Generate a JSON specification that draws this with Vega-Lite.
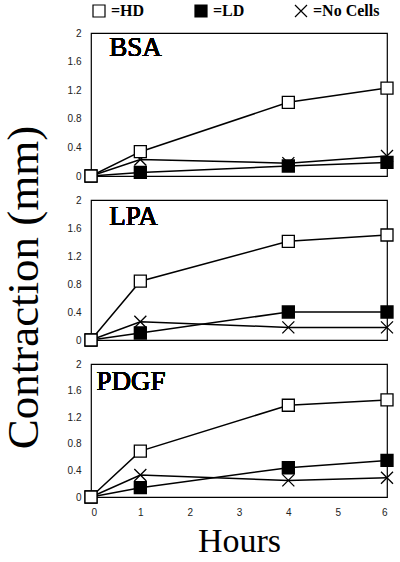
{
  "$schema": "https://vega.github.io/schema/vega-lite/v6.json",
  "padding": {"left": 0, "top": 3, "right": 5, "bottom": 0},
  "background": "white",
  "bounds": "flush",
  "spacing": 24,
  "config": {
    "view": {"stroke": "black", "strokeWidth": 1.2},
    "axis": {"labelFont": "Liberation Sans", "labelFontSize": 10, "labelColor": "#222", "labelOverlap": false, "ticks": false, "domain": false, "grid": false, "titleFont": "Liberation Serif", "titleFontWeight": "normal", "titleColor": "black"},
    "legend": {"labelFont": "Liberation Serif", "labelFontWeight": "bold", "labelFontSize": 16, "labelColor": "black"}
  },
  "datasets": {
    "pts": [
      {"panel": "BSA", "series": "LD", "hours": 0, "value": 0},
      {"panel": "BSA", "series": "LD", "hours": 1, "value": 0.05},
      {"panel": "BSA", "series": "LD", "hours": 4, "value": 0.14},
      {"panel": "BSA", "series": "LD", "hours": 6, "value": 0.19},
      {"panel": "BSA", "series": "No Cells", "hours": 0, "value": 0},
      {"panel": "BSA", "series": "No Cells", "hours": 1, "value": 0.23},
      {"panel": "BSA", "series": "No Cells", "hours": 4, "value": 0.18},
      {"panel": "BSA", "series": "No Cells", "hours": 6, "value": 0.28},
      {"panel": "BSA", "series": "HD", "hours": 0, "value": 0},
      {"panel": "BSA", "series": "HD", "hours": 1, "value": 0.34},
      {"panel": "BSA", "series": "HD", "hours": 4, "value": 1.03},
      {"panel": "BSA", "series": "HD", "hours": 6, "value": 1.23},
      {"panel": "LPA", "series": "LD", "hours": 0, "value": 0},
      {"panel": "LPA", "series": "LD", "hours": 1, "value": 0.10},
      {"panel": "LPA", "series": "LD", "hours": 4, "value": 0.40},
      {"panel": "LPA", "series": "LD", "hours": 6, "value": 0.40},
      {"panel": "LPA", "series": "No Cells", "hours": 0, "value": 0},
      {"panel": "LPA", "series": "No Cells", "hours": 1, "value": 0.26},
      {"panel": "LPA", "series": "No Cells", "hours": 4, "value": 0.18},
      {"panel": "LPA", "series": "No Cells", "hours": 6, "value": 0.18},
      {"panel": "LPA", "series": "HD", "hours": 0, "value": 0},
      {"panel": "LPA", "series": "HD", "hours": 1, "value": 0.84},
      {"panel": "LPA", "series": "HD", "hours": 4, "value": 1.41},
      {"panel": "LPA", "series": "HD", "hours": 6, "value": 1.50},
      {"panel": "PDGF", "series": "LD", "hours": 0, "value": 0},
      {"panel": "PDGF", "series": "LD", "hours": 1, "value": 0.14},
      {"panel": "PDGF", "series": "LD", "hours": 4, "value": 0.44},
      {"panel": "PDGF", "series": "LD", "hours": 6, "value": 0.55},
      {"panel": "PDGF", "series": "No Cells", "hours": 0, "value": 0},
      {"panel": "PDGF", "series": "No Cells", "hours": 1, "value": 0.33},
      {"panel": "PDGF", "series": "No Cells", "hours": 4, "value": 0.25},
      {"panel": "PDGF", "series": "No Cells", "hours": 6, "value": 0.29},
      {"panel": "PDGF", "series": "HD", "hours": 0, "value": 0},
      {"panel": "PDGF", "series": "HD", "hours": 1, "value": 0.69},
      {"panel": "PDGF", "series": "HD", "hours": 4, "value": 1.38},
      {"panel": "PDGF", "series": "HD", "hours": 6, "value": 1.46}
    ]
  },
  "vconcat": [
    {
      "width": 296, "height": 143,
      "data": {"name": "pts"},
      "transform": [{"filter": "datum.panel === 'BSA'"}],
      "encoding": {
        "x": {"field": "hours", "type": "quantitative", "scale": {"domain": [0, 6]}, "axis": null},
        "y": {"field": "value", "type": "quantitative", "scale": {"domain": [0, 2]}, "axis": {"values": [0, 0.4, 0.8, 1.2, 1.6, 2], "labelExpr": "format(datum.value, '~g')", "title": null, "labelPadding": 10, "labelOverlap": false}}
      },
      "layer": [
        {"mark": {"type": "line", "stroke": "black", "strokeWidth": 1.5},
         "encoding": {"detail": {"field": "series"}}},
        {"mark": {"type": "point", "filled": true, "stroke": "black", "strokeWidth": 1.3, "size": 144, "opacity": 1},
         "encoding": {
           "shape": {"field": "series", "type": "nominal", "scale": {"domain": ["HD", "LD", "No Cells"], "range": ["square", "square", "M-1,-1L1,1M-1,1L1,-1"]},
             "legend": {"title": null, "orient": "top", "direction": "horizontal", "columns": 3, "gridAlign": "none", "columnPadding": 47, "symbolSize": 144, "symbolStrokeWidth": 1.2, "labelExpr": "'=' + datum.label", "offset": 7, "labelOffset": 4}},
           "fill": {"field": "series", "type": "nominal", "scale": {"domain": ["HD", "LD", "No Cells"], "range": ["white", "black", "transparent"]}, "legend": {"title": null}}}},
        {"mark": {"type": "text", "font": "Liberation Serif", "fontWeight": "normal", "fontSize": 27, "align": "left", "baseline": "alphabetic"},
         "encoding": {"x": {"datum": 0.37}, "y": {"datum": 1.68}, "text": {"value": "BSA"}}}
      ]
    },
    {
      "width": 296, "height": 140,
      "data": {"name": "pts"},
      "transform": [{"filter": "datum.panel === 'LPA'"}],
      "encoding": {
        "x": {"field": "hours", "type": "quantitative", "scale": {"domain": [0, 6]}, "axis": null},
        "y": {"field": "value", "type": "quantitative", "scale": {"domain": [0, 2]}, "axis": {"values": [0, 0.4, 0.8, 1.2, 1.6, 2], "labelExpr": "format(datum.value, '~g')", "title": "Contraction (mm)", "titleFontSize": 45, "titlePadding": 21, "titleY": 87, "labelPadding": 10, "labelOverlap": false}}
      },
      "layer": [
        {"mark": {"type": "line", "stroke": "black", "strokeWidth": 1.5},
         "encoding": {"detail": {"field": "series"}}},
        {"mark": {"type": "point", "filled": true, "stroke": "black", "strokeWidth": 1.3, "size": 144, "opacity": 1},
         "encoding": {
           "shape": {"field": "series", "type": "nominal", "scale": {"domain": ["HD", "LD", "No Cells"], "range": ["square", "square", "M-1,-1L1,1M-1,1L1,-1"]}, "legend": null},
           "fill": {"field": "series", "type": "nominal", "scale": {"domain": ["HD", "LD", "No Cells"], "range": ["white", "black", "transparent"]}, "legend": null}}},
        {"mark": {"type": "text", "font": "Liberation Serif", "fontWeight": "normal", "fontSize": 27, "align": "left", "baseline": "alphabetic"},
         "encoding": {"x": {"datum": 0.37}, "y": {"datum": 1.64}, "text": {"value": "LPA"}}}
      ]
    },
    {
      "width": 296, "height": 133,
      "data": {"name": "pts"},
      "transform": [{"filter": "datum.panel === 'PDGF'"}],
      "encoding": {
        "x": {"field": "hours", "type": "quantitative", "scale": {"domain": [0, 6]}, "axis": {"values": [0, 1, 2, 3, 4, 5, 6], "title": "Hours", "titleFontSize": 34, "titlePadding": 7, "labelPadding": 10}},
        "y": {"field": "value", "type": "quantitative", "scale": {"domain": [0, 2]}, "axis": {"values": [0, 0.4, 0.8, 1.2, 1.6, 2], "labelExpr": "format(datum.value, '~g')", "title": null, "labelPadding": 10, "labelOverlap": false}}
      },
      "layer": [
        {"mark": {"type": "line", "stroke": "black", "strokeWidth": 1.5},
         "encoding": {"detail": {"field": "series"}}},
        {"mark": {"type": "point", "filled": true, "stroke": "black", "strokeWidth": 1.3, "size": 144, "opacity": 1},
         "encoding": {
           "shape": {"field": "series", "type": "nominal", "scale": {"domain": ["HD", "LD", "No Cells"], "range": ["square", "square", "M-1,-1L1,1M-1,1L1,-1"]}, "legend": null},
           "fill": {"field": "series", "type": "nominal", "scale": {"domain": ["HD", "LD", "No Cells"], "range": ["white", "black", "transparent"]}, "legend": null}}},
        {"mark": {"type": "text", "font": "Liberation Serif", "fontWeight": "normal", "fontSize": 27, "align": "left", "baseline": "alphabetic"},
         "encoding": {"x": {"datum": 0.11}, "y": {"datum": 1.61}, "text": {"value": "PDGF"}}}
      ]
    }
  ]
}
